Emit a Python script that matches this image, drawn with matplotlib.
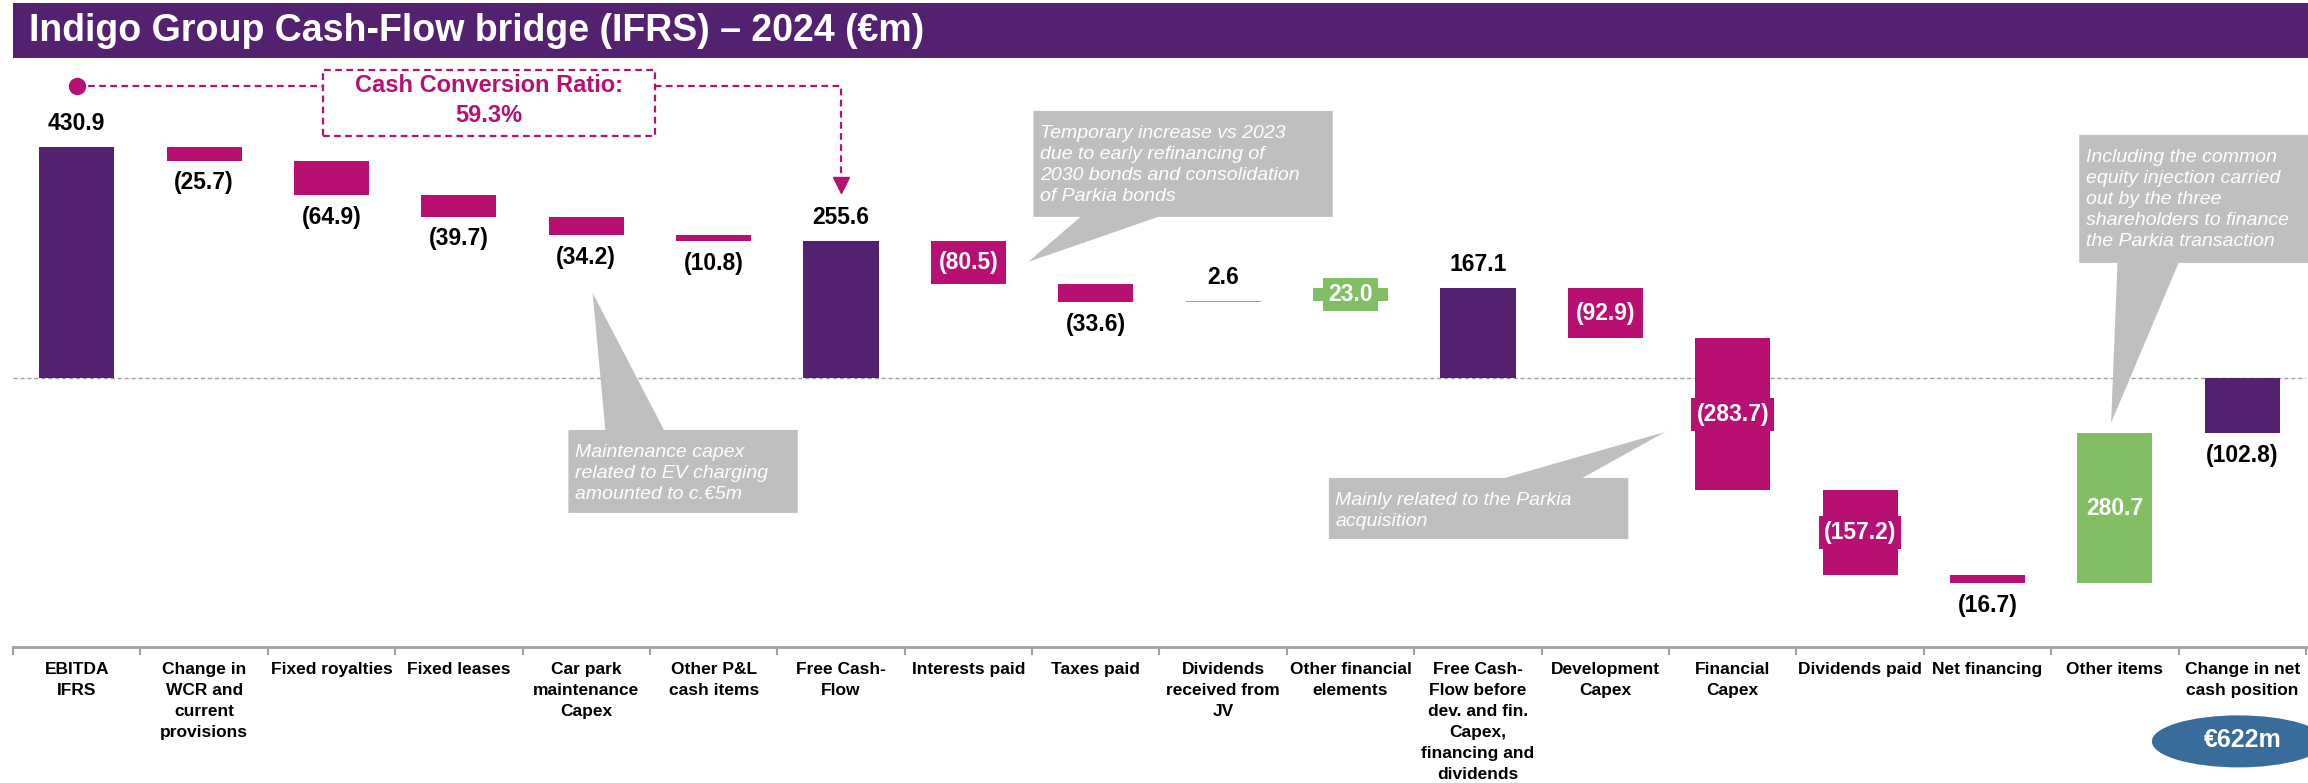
import matplotlib
matplotlib.use("Agg")
import matplotlib.pyplot as plt
import numpy as np
from matplotlib.patches import Polygon, Rectangle, Ellipse

plt.rcParams["font.family"] = ["Liberation Sans", "DejaVu Sans"]

PURPLE = "#53216F"
MAGENTA = "#B80F72"
GREEN = "#82BE64"
GREY = "#BFBFBF"
AXIS = "#A0A0A0"

categories = [
    "EBITDA\nIFRS", "Change in\nWCR and\ncurrent\nprovisions", "Fixed royalties", "Fixed leases",
    "Car park\nmaintenance\nCapex", "Other P&L\ncash items", "Free Cash-\nFlow", "Interests paid",
    "Taxes paid", "Dividends\nreceived from\nJV", "Other financial\nelements",
    "Free Cash-\nFlow before\ndev. and fin.\nCapex,\nfinancing and\ndividends",
    "Development\nCapex", "Financial\nCapex", "Dividends paid", "Net financing", "Other items",
    "Change in net\ncash position",
]
values = [430.9, -25.7, -64.9, -39.7, -34.2, -10.8, 255.6, -80.5, -33.6, 2.6, 23.0, 167.1,
          -92.9, -283.7, -157.2, -16.7, 280.7, -102.8]
is_total = [True, False, False, False, False, False, True, False, False, False, False, True,
            False, False, False, False, False, True]
label_pos = ["above", "below", "below", "below", "below", "below", "above", "inside", "below",
             "above", "inside", "above", "inside", "inside", "inside", "below", "inside", "below"]

cash_conversion = "59.3%"
net_cash = "€622m"

# bar geometry from the running total
starts, ends = [], []
running = 0.0
for v, tot in zip(values, is_total):
    if tot:
        starts.append(0.0)
        ends.append(v)
        running = v
    else:
        starts.append(running)
        running += v
        ends.append(running)
starts = np.array(starts)
ends = np.array(ends)
bottoms = np.minimum(starts, ends)
heights = np.abs(ends - starts)
colors = [PURPLE if t else (MAGENTA if v < 0 else GREEN) for v, t in zip(values, is_total)]


def fmt(v):
    return f"({abs(v):.1f})" if v < 0 else f"{v:.1f}"


fig = plt.figure(figsize=(23.08, 7.83), dpi=100)
W, H = 2308, 783
ax = fig.add_axes([13 / W, 1 - 646.5 / H, (2306 - 13) / W, (646.5 - 60) / H])
ax.set_xlim(-0.5, len(values) - 0.5)
ax.set_ylim(-501, 593)

x = np.arange(len(values))
ax.bar(x, heights, bottom=bottoms, width=0.59, color=colors, zorder=2)
ax.axhline(0, color=AXIS, lw=1.0, ls=(0, (3, 2)), zorder=1)

for i, v in enumerate(values):
    top = bottoms[i] + heights[i]
    if label_pos[i] == "above":
        ax.annotate(fmt(v), (i, top), xytext=(0, 17), textcoords="offset points",
                    ha="center", va="center", fontsize=16.5, fontweight="bold", color="black")
    elif label_pos[i] == "below":
        ax.annotate(fmt(v), (i, bottoms[i]), xytext=(0, -16), textcoords="offset points",
                    ha="center", va="center", fontsize=16.5, fontweight="bold", color="black")
    else:
        ax.text(i, bottoms[i] + heights[i] / 2, fmt(v), ha="center", va="center", fontsize=16.5,
                fontweight="bold", color="white", zorder=4,
                bbox=dict(boxstyle="square,pad=0.22", fc=colors[i], ec="none"))

# axis styling
for s in ["left", "right", "top"]:
    ax.spines[s].set_visible(False)
ax.spines["bottom"].set_color(AXIS)
ax.spines["bottom"].set_linewidth(2)
ax.spines["bottom"].set_position(("data", -501))
ax.yaxis.set_visible(False)
ax.set_xticks(x)
ax.set_xticklabels(categories, fontsize=12.5, fontweight="bold", linespacing=1.5, va="top")
ax.tick_params(axis="x", which="major", length=0, pad=11)
ax.set_xticks(np.arange(-0.5, len(values), 1.0), minor=True)
ax.tick_params(axis="x", which="minor", length=6, width=1.5, color=AXIS, direction="out")


def callout(x0, x1, y0, y1, base, tip, edge, text):
    b0, b1 = base
    if edge == "bottom":
        verts = [(x0, y1), (x1, y1), (x1, y0), (b1, y0), tip, (b0, y0), (x0, y0)]
    else:
        verts = [(x0, y0), (x0, y1), (b0, y1), tip, (b1, y1), (x1, y1), (x1, y0)]
    ax.add_patch(Polygon(verts, closed=True, fc=GREY, ec="none", zorder=3, clip_on=False))
    top = max(y0, y1)
    ax.text(x0 + 0.05, top - 27, text, ha="left", va="top", fontsize=14, style="italic",
            color="white", linespacing=1.3, zorder=4, clip_on=False)


# (x0, x1, bottom edge y, top edge y)
callout(7.51, 9.86, 300.4, 498, (7.88, 8.49), (7.47, 216.4), "bottom",
        "Temporary increase vs 2023\ndue to early refinancing of\n2030 bonds and consolidation\nof Parkia bonds")
callout(3.86, 5.66, -251.9, -97, (4.15, 4.61), (4.05, 158.6), "top",
        "Maintenance capex\nrelated to EV charging\namounted to c.€5m")
callout(9.83, 12.18, -300.4, -186.6, (11.21, 11.82), (12.47, -100.7), "top",
        "Mainly related to the Parkia\nacquisition")
callout(15.72, 17.8, 214.6, 453.4, (16.02, 16.50), (15.97, -84), "bottom",
        "Including the common\nequity injection carried\nout by the three\nshareholders to finance\nthe Parkia transaction")

# cash conversion connector
conn_y = 545
ax.plot([0, 6, 6], [conn_y, conn_y, 372], color=MAGENTA, lw=1.6, ls=(0, (3, 2)), zorder=2)
ax.plot([0], [conn_y], "o", ms=11.5, color=MAGENTA, zorder=3)
ax.plot([6], [359], "v", ms=12, color=MAGENTA, zorder=3)
ax.add_patch(Rectangle((1.93, 451.5), 4.54 - 1.93, 574.6 - 451.5, fc="white", ec=MAGENTA,
                       lw=1.6, ls=(0, (3, 2)), zorder=3))
ax.text(3.235, 544.8, "Cash Conversion Ratio:", ha="center", va="center", fontsize=17,
        fontweight="bold", color=MAGENTA, zorder=4)
ax.text(3.235, 488.8, cash_conversion, ha="center", va="center", fontsize=17,
        fontweight="bold", color=MAGENTA, zorder=4)

# net cash bubble
ax.add_patch(Ellipse((16.97, -678), 1.36, 97, fc="#386C9A", ec="none", clip_on=False, zorder=3))
ax.text(17.0, -676, net_cash, ha="center", va="center", fontsize=18, fontweight="bold",
        color="white", zorder=4, clip_on=False)

# title band
fig.patches.append(Rectangle((13 / W, 1 - 58 / H), 1, 55 / H, transform=fig.transFigure,
                             fc=PURPLE, ec="none", zorder=0))
fig.text(29 / W, 1 - 31 / H, "Indigo Group Cash-Flow bridge (IFRS) – 2024 (€m)", ha="left",
         va="center", fontsize=27, fontweight="bold", color="white")

fig.savefig("out.png", dpi=100)
